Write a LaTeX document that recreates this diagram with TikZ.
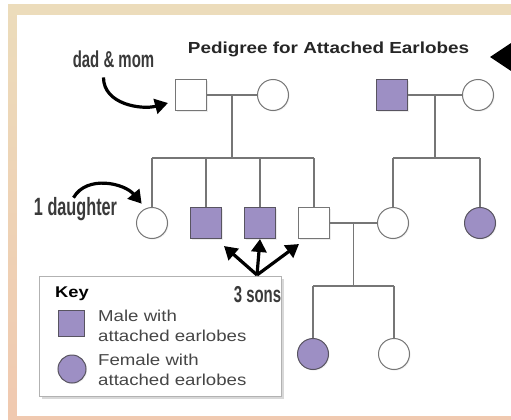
\documentclass[tikz,border=0pt]{standalone}
\usepackage{fontspec}
\setsansfont[FakeStretch=1.18]{Liberation Sans}
\newfontfamily\notefont[FakeStretch=0.65]{Liberation Sans}
\usepackage{tikz}
\usetikzlibrary{positioning,arrows.meta,shadows}

\definecolor{earlobe}{RGB}{157,143,196}
\definecolor{kinline}{RGB}{118,118,118}
\definecolor{rim}{RGB}{88,84,96}
\definecolor{notegray}{RGB}{58,58,58}
\definecolor{keygray}{RGB}{70,70,70}
\definecolor{frametop}{RGB}{236,220,187}
\definecolor{framebot}{RGB}{240,201,176}

\tikzset{
  person/.style={draw=kinline, fill=white, line width=1pt, inner sep=0pt, minimum size=31pt,
                 drop shadow={shadow xshift=1pt, shadow yshift=-1pt, opacity=0.15}},
  male/.style={person, rectangle},
  female/.style={person, circle},
  attached/.style={fill=earlobe, draw=rim},
  kin/.style={draw=kinline, line width=1.1pt},
  pointer/.style={-{Triangle[length=13pt, width=15pt]}, line width=3.2pt, black},
  note/.style={font=\notefont\bfseries\fontsize{23}{26}\selectfont, text=notegray, inner sep=1pt},
  keytext/.style={font=\sffamily\fontsize{15.8}{19.5}\selectfont, text=keygray, align=left, inner sep=0pt},
}

\begin{document}
\begin{tikzpicture}[x=1pt, y=1pt]
  \useasboundingbox (0,0) rectangle (511,-420);
  % frame and panel
  \shade[top color=frametop, bottom color=framebot] (8,-5) rectangle (511,-420);
  \fill[white] (17,-15) rectangle (511,-416);

  \node[font=\sffamily\bfseries\fontsize{16}{18}\selectfont, text=black!85, anchor=base] (title) at (328.5,-53) {Pedigree for Attached Earlobes};
  \fill[black] (490,-57) -- (511,-43) -- (511,-71) -- cycle;

  % key
  \node[draw=black!30, fill=white, line width=0.8pt, minimum width=242pt, minimum height=120pt,
        drop shadow={shadow xshift=2.5pt, shadow yshift=-2.5pt, opacity=0.3}] (keybox) at (160,-336) {};
  \node[font=\sffamily\bfseries\fontsize{15.5}{18}\selectfont, anchor=base west, inner sep=0pt] (keyhead) at (55,-297) {Key};
  \node[male, attached, minimum size=26pt] (keymale) at (71,-323) {};
  \node[female, attached, minimum size=28pt] (keyfemale) at (72,-369) {};
  \node[keytext, anchor=north west] (keymaletext) at (98,-310) {Male with\\attached earlobes};
  \node[keytext, anchor=north west] (keyfemaletext) at (98,-354) {Female with\\attached earlobes};

  % first generation
  \node[male] (dad) at (191,-95) {};
  \node[female] (mom) [right=50pt of dad] {};
  \node[male, attached] (gpa) [right=87pt of mom] {};
  \node[female] (gma) [right=54pt of gpa] {};

  % second generation
  \node[female] (daughter) [below=96pt of dad, xshift=-39pt] {};
  \node[male, attached] (son1) [right=22pt of daughter] {};
  \node[male, attached] (son2) [right=22pt of son1] {};
  \node[male] (son3) [right=22pt of son2] {};
  \node[female] (wife) [right=47pt of son3] {};
  \node[female, attached] (aunt) [right=55pt of wife] {};

  % third generation
  \node[female, attached] (gkid1) [below=99pt of son3, xshift=-1pt] {};
  \node[female] (gkid2) [right=49pt of gkid1] {};

  % matings and sibships
  \draw[kin] (dad) -- (mom) coordinate[midway] (m1);
  \draw[kin] (m1) -- ++(0,-63) coordinate (s1);
  \draw[kin] (daughter.north |- s1) -- (son3.north |- s1);
  \draw[kin] (daughter) -- (daughter |- s1);
  \draw[kin] (son1) -- (son1 |- s1);
  \draw[kin] (son2) -- (son2 |- s1);
  \draw[kin] (son3) -- (son3 |- s1);

  \draw[kin] (gpa) -- (gma) coordinate[midway] (m2);
  \draw[kin] (m2) -- ++(0,-63) coordinate (s2);
  \draw[kin] (wife.north |- s2) -- (aunt.north |- s2);
  \draw[kin] (wife) -- (wife |- s2);
  \draw[kin] (aunt) -- (aunt |- s2);

  \draw[kin] (son3) -- (wife) coordinate[midway] (m3);
  \draw[kin] (m3) -- ++(0,-63) coordinate (s3);
  \draw[kin] (gkid1.north |- s3) -- (gkid2.north |- s3);
  \draw[kin] (gkid1) -- (gkid1 |- s3);
  \draw[kin] (gkid2) -- (gkid2 |- s3);

  % notes
  \node[note, anchor=base] (dadlabel) at (113.5,-67) {dad \& mom};
  \node[note, font=\notefont\bfseries\fontsize{25}{28}\selectfont, anchor=base] (daughterlabel) at (75.5,-215) {1 daughter};
  \node[note, anchor=base] (sonslabel) at (257.5,-302) {3 sons};
  \coordinate (fork) at (257,-275);

  \draw[pointer] ([xshift=-10pt, yshift=-9pt]dadlabel.south) to[out=-90, in=195] ([xshift=-7pt, yshift=-8pt]dad.west);
  \draw[pointer] ([xshift=-2pt, yshift=-2pt]daughterlabel.north) to[out=60, in=130] ([xshift=1pt, yshift=8pt]daughter.north west);
  \draw[pointer] (fork) -- ([xshift=2pt, yshift=-7pt]son1.south east);
  \draw[pointer] (fork) -- (son2.south);
  \draw[pointer] (fork) -- ([xshift=1pt, yshift=-5pt]son3.south west);
\end{tikzpicture}
\end{document}
